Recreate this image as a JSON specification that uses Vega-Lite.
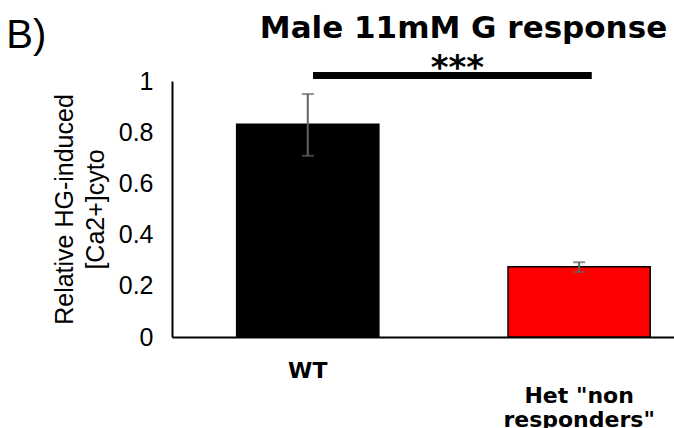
{
  "$schema": "https://vega.github.io/schema/vega-lite/v6.json",
  "width": 502,
  "height": 256,
  "autosize": "none",
  "padding": {"left": 172, "top": 81, "right": 0, "bottom": 91},
  "background": "white",
  "title": {
    "text": "B)",
    "anchor": "start",
    "frame": "bounds",
    "font": "Liberation Sans",
    "fontSize": 40,
    "fontWeight": "normal",
    "color": "black",
    "offset": 0,
    "dx": -46,
    "dy": 44
  },
  "datasets": {
    "bars": [
      {"group": "WT", "mean": 0.831, "lo": 0.708, "hi": 0.949},
      {"group": "Het \"non responders\"", "mean": 0.274, "lo": 0.254, "hi": 0.292}
    ],
    "sig": [
      {"from": "WT", "to": "Het \"non responders\"", "y": 1.0215, "label": "***", "ylabel": 1.008}
    ]
  },
  "config": {
    "view": {"stroke": null},
    "axis": {"grid": false}
  },
  "resolve": {"axis": {"x": "independent"}},
  "layer": [
    {
      "data": {"name": "bars"},
      "mark": {"type": "bar", "stroke": "black", "strokeWidth": 1.5},
      "encoding": {
        "x": {
          "field": "group",
          "type": "nominal",
          "sort": null,
          "scale": {"domain": ["WT", "Het \"non responders\""], "paddingInner": 0.476, "paddingOuter": 0.163, "align": 0.731},
          "axis": {
            "orient": "bottom",
            "title": null,
            "labelAngle": 0,
            "ticks": false,
            "tickSize": 0,
            "domain": true,
            "domainColor": "black",
            "domainWidth": 2,
            "labelFont": "DejaVu Sans",
            "labelFontWeight": "bold",
            "labelFontSize": 22,
            "labelColor": "black",
            "labelLineHeight": 24,
            "labelBaseline": "top",
            "labelPadding": {"condition": {"test": "datum.value == 'WT'", "value": 23}, "value": 48},
            "labelExpr": "datum.value == 'WT' ? 'WT' : ['Het \"non', 'responders\"']"
          }
        },
        "y": {
          "field": "mean",
          "type": "quantitative",
          "scale": {"domain": [0, 1], "nice": false},
          "axis": {
            "values": [0, 0.2, 0.4, 0.6, 0.8, 1],
            "format": ".1~f",
            "ticks": false,
            "tickSize": 0,
            "domain": true,
            "domainColor": "black",
            "domainWidth": 2,
            "labelFont": "Liberation Sans",
            "labelFontSize": 25,
            "labelColor": "black",
            "labelPadding": 19,
            "title": ["Relative HG-induced", "[Ca2+]cyto"],
            "titleFont": "Liberation Sans",
            "titleFontSize": 25,
            "titleFontWeight": "normal",
            "titleColor": "black",
            "titleLineHeight": 31,
            "titlePadding": 10
          }
        },
        "color": {
          "field": "group",
          "type": "nominal",
          "scale": {"domain": ["WT", "Het \"non responders\""], "range": ["#000000", "#ff0000"]},
          "legend": null
        }
      }
    },
    {
      "data": {"name": "bars"},
      "mark": {"type": "rule", "color": "#636363", "strokeWidth": 2},
      "encoding": {
        "x": {"field": "group", "type": "nominal", "sort": null, "axis": null},
        "y": {"field": "lo", "type": "quantitative"},
        "y2": {"field": "hi"}
      }
    },
    {
      "data": {"name": "bars"},
      "mark": {"type": "tick", "color": "#636363", "size": 12, "thickness": 2, "orient": "horizontal"},
      "encoding": {
        "x": {"field": "group", "type": "nominal", "sort": null, "axis": null},
        "y": {"field": "hi", "type": "quantitative"}
      }
    },
    {
      "data": {"name": "bars"},
      "mark": {"type": "tick", "color": "#636363", "size": 12, "thickness": 2, "orient": "horizontal"},
      "encoding": {
        "x": {"field": "group", "type": "nominal", "sort": null, "axis": null},
        "y": {"field": "lo", "type": "quantitative"}
      }
    },
    {
      "data": {"name": "sig"},
      "mark": {"type": "rule", "color": "black", "strokeWidth": 7, "strokeCap": "butt", "clip": false},
      "encoding": {
        "x": {
          "field": "from",
          "type": "nominal",
          "sort": null,
          "bandPosition": 0.537,
          "axis": {
            "orient": "top",
            "labels": false,
            "ticks": false,
            "domain": false,
            "title": "Male 11mM G response",
            "titleFont": "DejaVu Sans",
            "titleFontWeight": "bold",
            "titleFontSize": 31,
            "titleColor": "black",
            "titleAngle": 0,
            "titleAlign": "center",
            "titleBaseline": "alphabetic",
            "titleX": 291,
            "titleY": -44
          }
        },
        "x2": {"field": "to", "bandPosition": 0.589},
        "y": {"field": "y", "type": "quantitative"}
      }
    },
    {
      "data": {"name": "sig"},
      "mark": {"type": "text", "font": "DejaVu Sans", "fontSize": 34, "fontWeight": "bold", "color": "black", "baseline": "alphabetic", "align": "center", "clip": false},
      "encoding": {
        "x": {"field": "from", "type": "nominal", "sort": null, "bandPosition": 1.553, "axis": null},
        "y": {"field": "ylabel", "type": "quantitative"},
        "text": {"field": "label"}
      }
    }
  ]
}
